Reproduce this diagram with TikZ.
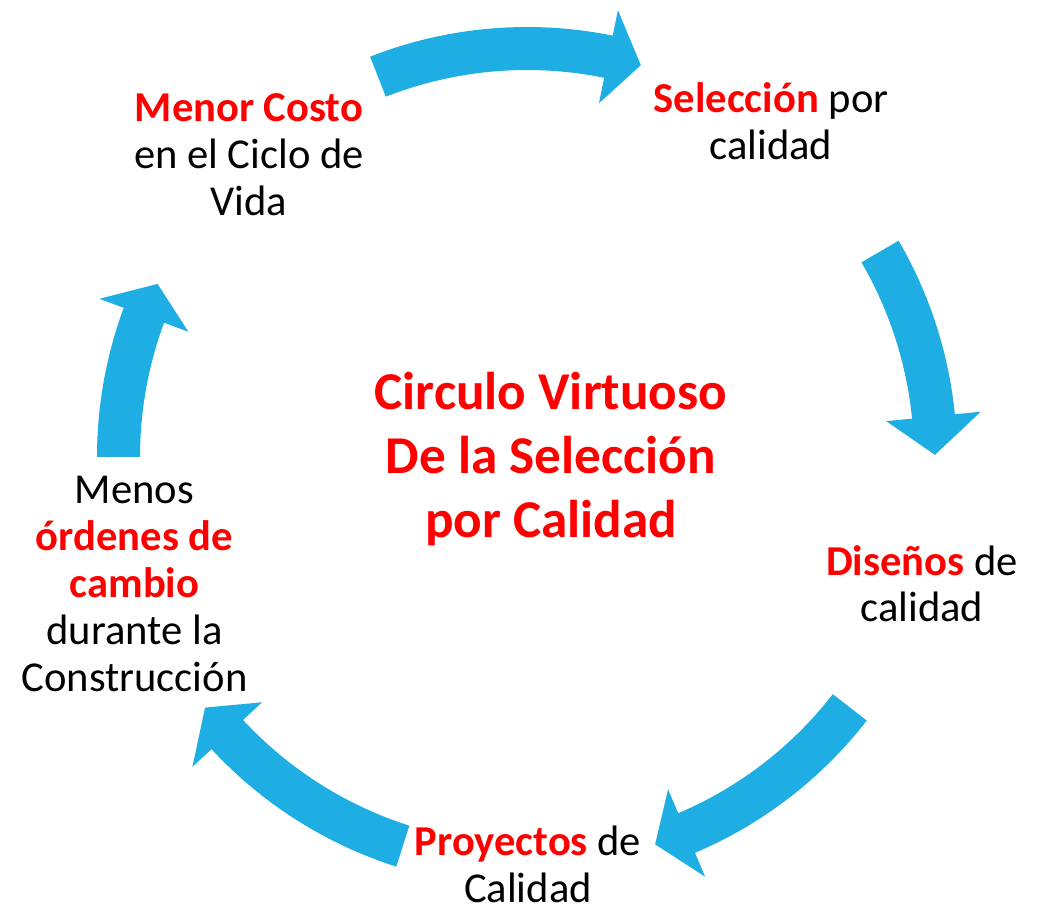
\documentclass[tikz,border=0pt]{standalone}
\usepackage{fontspec}
\setmainfont{Carlito}
\definecolor{arrowblue}{RGB}{31,174,227}
\definecolor{hred}{RGB}{255,0,0}
\newcommand\ringarrow[3]{%
  \fill[arrowblue] (#1:430) arc[start angle=#1,end angle=#2,radius=430]
    -- (#2:456) -- (#3:408) -- (#2:361) -- (#2:387)
    arc[start angle=#2,end angle=#1,radius=387] -- cycle;}
\tikzset{
  lbl/.style={align=center,anchor=base,inner sep=0pt,font=\fontsize{42.6}{47}\selectfont},
  ttl/.style={align=center,anchor=base,inner sep=0pt,text=hred,font=\fontsize{53.2}{64}\selectfont\bfseries}
}
\begin{document}
\begin{tikzpicture}[x=1pt,y=1pt]
\useasboundingbox (0,0) rectangle (1039,906);
\begin{scope}[shift={(527,449)}]
  \ringarrow{111.4}{78.5}{73.8}
  \ringarrow{30.2}{5.7}{0.3}
  \ringarrow{-37.8}{-67}{-71.7}
  \ringarrow{-107.7}{-137.2}{-142.1}
  \ringarrow{180}{159.7}{154.9}
\end{scope}
\node[lbl] (costo) at (249,690.6) {\textcolor{hred}{\bfseries Menor Costo}\\en el Ciclo de\\Vida};
\node[lbl] (seleccion) at (771,746) {\textcolor{hred}{\bfseries Selección} por\\calidad};
\node[ttl] (titulo) at (551,368) {Circulo Virtuoso\\De la Selección\\por Calidad};
\node[lbl] (disenos) at (922,284) {\textcolor{hred}{\bfseries Diseños} de\\calidad};
\node[lbl] (proyectos) at (528,4) {\textcolor{hred}{\bfseries Proyectos} de\\Calidad};
\node[lbl] (ordenes) at (134.5,215) {Menos\\\textcolor{hred}{\bfseries órdenes de}\\\textcolor{hred}{\bfseries cambio}\\durante la\\Construcción};
\end{tikzpicture}
\end{document}
